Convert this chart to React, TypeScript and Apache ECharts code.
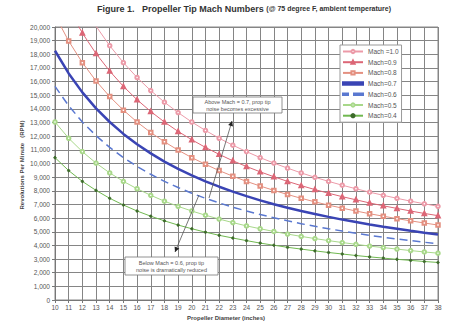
import React, { useEffect, useRef } from "react";
import * as echarts from "echarts";

const diameters = [10,11,12,13,14,15,16,17,18,19,20,21,22,23,24,25,26,27,28,29,30,31,32,33,34,35,36,37,38];
const yTicks = { min: 0, max: 20000, interval: 1000 };

const mach10 = [26080,23710,21730,20060,18630,17390,16300,15340,14490,13730,13040,12420,11850,11340,10870,10430,10030,9660,9310,8990,8690,8410,8150,7900,7670,7450,7240,7050,6860];
const mach09 = [23470,21340,19560,18050,16770,15650,14670,13810,13040,12350,11740,11180,10670,10200,9780,9390,9030,8690,8380,8090,7820,7570,7340,7110,6900,6710,6520,6340,6180];
const mach08 = [20860,18970,17390,16050,14900,13910,13040,12270,11590,10980,10430,9940,9480,9070,8690,8350,8030,7730,7450,7190,6950,6730,6520,6320,6140,5960,5800,5640,5490];
const mach07 = [18260,16600,15210,14040,13040,12170,11410,10740,10140,9610,9130,8690,8300,7940,7610,7300,7020,6760,6520,6300,6090,5890,5710,5530,5370,5220,5070,4930,4800];
const mach06 = [15650,14230,13040,12040,11180,10430,9780,9210,8690,8240,7820,7450,7110,6800,6520,6260,6020,5800,5590,5400,5220,5050,4890,4740,4600,4470,4350,4230,4120];
const mach05 = [13040,11850,10870,10030,9310,8690,8150,7670,7240,6860,6520,6210,5930,5670,5430,5220,5020,4830,4660,4500,4350,4210,4080,3950,3840,3730,3620,3520,3430];
const mach04 = [10430,9480,8690,8030,7450,6960,6520,6140,5800,5490,5220,4970,4740,4540,4350,4170,4010,3860,3730,3600,3480,3370,3260,3160,3070,2980,2900,2820,2750];

const seriesNames = ["Mach =1.0", "Mach=0.9", "Mach=0.8", "Mach=0.7", "Mach=0.6", "Mach=0.5", "Mach=0.4"];

const FONT = "Liberation Sans";

export default function App() {
  const ref = useRef<HTMLDivElement>(null);
  useEffect(() => {
    if (!ref.current) return;
    const chart = echarts.init(ref.current, null, { renderer: "svg" });
    const mk = (name: string, data: number[], color: string, width: number, symbol: string, symbolSize: number, type: any = "solid", symbolColor?: string) => ({
      name,
      type: "line",
      data,
      smooth: false,
      symbol,
      symbolSize,
      showSymbol: symbol !== "none",
      showAllSymbol: true,
      clip: true,
      lineStyle: { color, width, type },
      itemStyle: { color: symbolColor || color, borderColor: symbolColor || color, borderWidth: 0.8 },
      emphasis: { disabled: true },
      z: 3,
    });
    const option: any = {
      animation: false,
      backgroundColor: "#ffffff",
      textStyle: { fontFamily: FONT },
      title: {
        text: "{a|Figure 1.   Propeller Tip Mach Numbers }{b|(@ 75 degree F, ambient temperature)}",
        left: 97,
        top: 4,
        padding: 0,
        textStyle: {
          rich: {
            a: { fontFamily: FONT, fontWeight: "bold", fontSize: 9, color: "#333" },
            b: { fontFamily: FONT, fontWeight: "bold", fontSize: 7, color: "#333" },
          },
        },
      },
      grid: { left: 55, right: 13, top: 27, bottom: 26, show: true, borderColor: "#888", borderWidth: 1, backgroundColor: "transparent" },
      legend: {
        orient: "vertical",
        left: 340,
        top: 45,
        padding: [3, 3, 3, 2],
        itemWidth: 20,
        itemHeight: 4,
        itemGap: 3.7,
        backgroundColor: "#ffffff",
        borderColor: "#999",
        borderWidth: 1,
        borderRadius: 0,
        z: 10,
        textStyle: { fontFamily: FONT, fontSize: 6.5, color: "#555", lineHeight: 7 },
        data: [
          { name: seriesNames[0] },
          { name: seriesNames[1] },
          { name: seriesNames[2] },
          { name: seriesNames[3], icon: "path://M0 0H20V2.5H0Z" },
          { name: seriesNames[4], icon: "path://M0 0H5V1.5H0Z M11 0H20V1.5H11Z" },
          { name: seriesNames[5] },
          { name: seriesNames[6] },
        ],
      },
      xAxis: {
        type: "category",
        data: diameters.map(String),
        boundaryGap: false,
        axisLine: { lineStyle: { color: "#777", width: 1 } },
        axisTick: { show: true, length: 3, interval: 0, lineStyle: { color: "#777" } },
        axisLabel: { interval: 0, fontFamily: FONT, fontSize: 6.5, color: "#555", margin: 4 },
        splitLine: { show: true, interval: 0, lineStyle: { color: "#858585", width: 1 } },
      },
      yAxis: {
        type: "value",
        min: yTicks.min,
        max: yTicks.max,
        interval: yTicks.interval,
        axisLine: { show: true, lineStyle: { color: "#777", width: 1 } },
        axisTick: { show: true, length: 3, lineStyle: { color: "#777" } },
        axisLabel: { fontFamily: FONT, fontSize: 6.5, color: "#555", margin: 5 },
        splitLine: { show: true, lineStyle: { color: "#858585", width: 1 } },
      },
      series: [
        mk(seriesNames[0], mach10, "#ec9aa8", 1, "emptyCircle", 3.5),
        mk(seriesNames[1], mach09, "#dc6676", 1, "emptyTriangle", 3.5),
        mk(seriesNames[2], mach08, "#e49080", 1, "emptyRect", 3.5),
        mk(seriesNames[3], mach07, "#3a44b4", 2.5, "none", 0),
        mk(seriesNames[4], mach06, "#5a78d0", 1.5, "none", 0, [8, 5]),
        mk(seriesNames[5], mach05, "#a8d88a", 1, "emptyCircle", 3.5),
        mk(seriesNames[6], mach04, "#70b850", 1, "circle", 2.5, "solid", "#3c6a2a"),
      ],
      graphic: [
        {
          type: "text",
          x: 22,
          y: 165,
          rotation: Math.PI / 2,
          style: { text: "Revolutions Per Minute   (RPM)", fontFamily: FONT, fontWeight: "bold", fontSize: 6, fill: "#444", align: "center", verticalAlign: "middle" },
        },
        {
          type: "text",
          x: 226,
          y: 318,
          style: { text: "Propeller Diameter (inches)", fontFamily: FONT, fontWeight: "bold", fontSize: 6, fill: "#444", align: "center", verticalAlign: "middle" },
        },
        { type: "line", shape: { x1: 209, y1: 198, x2: 232, y2: 121 }, style: { stroke: "#555", lineWidth: 0.8 }, z: 20 },
        { type: "polygon", shape: { points: [[232, 121], [233, 126.5], [228.2, 125.1]] }, style: { fill: "#222" }, z: 20 },
        { type: "line", shape: { x1: 199, y1: 195, x2: 175, y2: 252 }, style: { stroke: "#555", lineWidth: 0.8 }, z: 20 },
        { type: "polygon", shape: { points: [[175, 252], [179.3, 248.4], [174.6, 246.4]] }, style: { fill: "#222" }, z: 20 },
        { type: "rect", shape: { x: 193, y: 97, width: 89, height: 16 }, style: { fill: "#fff", stroke: "#777", lineWidth: 0.8 }, z: 20 },
        {
          type: "text", x: 237.5, y: 105, z: 21,
          style: { text: "Above Mach = 0.7, prop tip\nnoise becomes excessive", fontFamily: FONT, fontSize: 5.5, lineHeight: 7, fill: "#555", align: "center", verticalAlign: "middle" },
        },
        { type: "rect", shape: { x: 125, y: 257, width: 93, height: 18 }, style: { fill: "#fff", stroke: "#777", lineWidth: 0.8 }, z: 20 },
        {
          type: "text", x: 171.5, y: 266, z: 21,
          style: { text: "Below Mach = 0.6, prop tip\nnoise is dramatically reduced", fontFamily: FONT, fontSize: 5.5, lineHeight: 7, fill: "#555", align: "center", verticalAlign: "middle" },
        },
      ],
    };
    chart.setOption(option);
    return () => chart.dispose();
  }, []);
  return <div ref={ref} style={{ width: 451, height: 326, position: "absolute", left: 0, top: 0 }} />;
}
